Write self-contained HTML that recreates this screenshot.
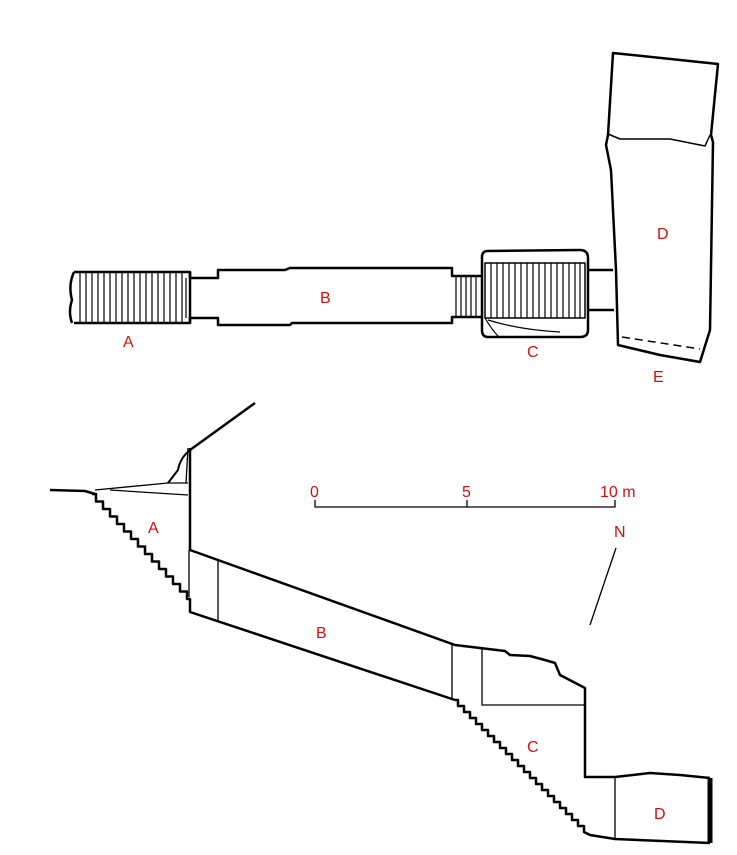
<!DOCTYPE html>
<html><head><style>
html,body{margin:0;padding:0;background:#fff;width:737px;height:855px;overflow:hidden}
text{font-family:"Liberation Sans",sans-serif;fill:#d01010;font-size:16px}
</style></head><body>
<svg width="737" height="855" viewBox="0 0 737 855" xmlns="http://www.w3.org/2000/svg">
<g fill="none" stroke="#000" stroke-linejoin="round">
<!-- PLAN -->
<g stroke-width="2.5">
<path d="M74,272 L120,272 L190,272 L190,278 L218,278 L218,270 L285,270 L290,268 L452,268 L452,276 L482,276"/>
<path d="M74,323 L120,323 L190,323 L190,318 L218,318 L218,325 L290,325 L292,323 L452,323 L452,317 L482,317"/>
<path d="M74,272 Q68,285 72,300 Q68,312 72,323"/>
<path d="M190,272 L190,323"/>
<path d="M488,251 L580,250 Q588,250 588,258 L588,330 Q588,337 580,337 L488,337 Q482,337 482,330 L482,257 Q482,251 488,251 Z"/>
<path d="M588,270 L613,270 M588,310 L614,310"/>
<path d="M613,53 L718,64 L711,135 L713,142 L710,330 L700,362 L660,355 L618,345 L616,270 L611,170 L606,145 L608,135 Z"/>
<path d="M608,134 L620,139 L670,139 L705,146 L710,135" stroke-width="1.5"/>
</g>
<path d="M622,337 L700,349" stroke-width="1.5" stroke-dasharray="8,5"/>
<path d="M485,263 L585,263 L585,318 L485,318 Z" stroke-width="1.5"/>
<path d="M485,318 Q492,330 498,336 M488,320 Q520,330 560,332" stroke-width="1.2"/>
<g stroke-width="1.2">
<path d="M80,273v50M86,273v50M92,273v50M98,273v50M104,273v50M110,273v50M116,273v50M122,273v50M128,273v50M134,273v50M140,273v50M146,273v50M152,273v50M158,273v50M164,273v50M170,273v50M176,273v50M182,273v50M186,278v40"/>
<path d="M456,277v40M461,277v40M466,277v40M471,277v40M476,277v40"/>
<path d="M491,263v55M497,263v55M503,263v55M509,263v55M515,263v55M521,263v55M527,263v55M533,263v55M539,263v55M545,263v55M551,263v55M557,263v55M563,263v55M569,263v55M575,263v55M580,263v55"/>
</g>
<!-- SECTION -->
<g stroke-width="2.5">
<path d="M50,490 L85,491 L95,494"/>
<path d="M92,494 h4 v7.5 h3 h4 v7.5 h3 h4 v7.5 h3 h4 v7.5 h3 h4 v7.5 h3 h4 v7.5 h3 h4 v7.5 h3 h4 v7.5 h3 h4 v7.5 h3 h4 v7.5 h3 h4 v7.5 h3 h4 v7.5 h3 h4 v7.5 h3 h4 v7.5 h3 L190,612 L455,700"/>
<path d="M190,448 L190,550 L455,645 L480,648 L505,651 L510,655 L530,656 L545,660 L555,663 L560,675 L585,688 L585,777 L615,777 L650,773 L680,775 L710,778"/>
<path d="M455,700 h3 v6 h3 h3 v6 h3 h3 v6 h3 h3 v6 h3 h3 v6 h3 h3 v6 h3 h3 v6 h3 h3 v6 h3 h3 v6 h3 h3 v6 h3 h3 v6 h3 h3 v6 h3 h3 v6 h3 h3 v6 h3 h3 v6 h3 h3 v6 h3 h3 v6 h3 h3 v6 h3 h3 v6 h3 h3 v6 h3 h3 v6 h3 h3 v6 L590,835 L615,839 L710,843"/>
<path d="M190,450 L255,403"/>
<path d="M190,450 Q180,458 178,470 L168,483" stroke-width="2"/>
</g>
<path d="M710,778 L710,843" stroke-width="5"/>
<g stroke-width="1.3">
<path d="M95,490 L168,483 L188,483"/>
<path d="M110,490 L188,495"/>
<path d="M188,448 L186,483"/>
<path d="M189,550 L189,597"/>
<path d="M218,560 L218,620"/>
<path d="M452,645 L452,700"/>
<path d="M482,648 L482,705 L585,705"/>
<path d="M615,777 L615,838"/>
<path d="M315,500 L315,507 L615,507 L615,500 M467,500 L467,507"/>
<path d="M616,548 L590,625"/>
</g>
</g>
<text x="123" y="347">A</text>
<text x="320" y="303">B</text>
<text x="527" y="357">C</text>
<text x="657" y="239">D</text>
<text x="653" y="382">E</text>
<text x="148" y="533">A</text>
<text x="316" y="638">B</text>
<text x="527" y="752">C</text>
<text x="654" y="819">D</text>
<text x="310" y="497">0</text>
<text x="462" y="497">5</text>
<text x="600" y="497">10 m</text>
<text x="614" y="537">N</text>
</svg>
</body></html>
